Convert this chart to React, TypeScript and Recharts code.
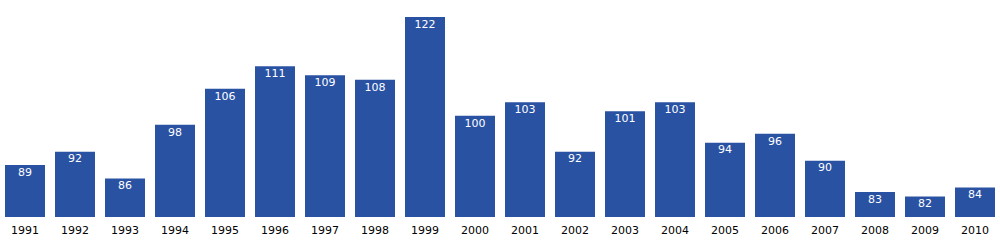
import React from "react";
import { BarChart, Bar, XAxis, YAxis, LabelList } from "recharts";

const years = ["1991","1992","1993","1994","1995","1996","1997","1998","1999","2000","2001","2002","2003","2004","2005","2006","2007","2008","2009","2010"];
const values = [89, 92, 86, 98, 106, 111, 109, 108, 122, 100, 103, 92, 101, 103, 94, 96, 90, 83, 82, 84];

const data = years.map((y, i) => ({ year: y, value: values[i] }));

export default function App() {
  return (
    <div style={{ position: "absolute", left: 0, top: 0, fontFamily: "DejaVu Sans" }}>
      <BarChart width={1000} height={250} data={data} margin={{ top: 17, right: 0, bottom: 0, left: 0 }} barSize={40}>
        <XAxis
          dataKey="year"
          axisLine={false}
          tickLine={false}
          height={33}
          tickMargin={3}
          interval={0}
          tick={{ fill: "#000", fontSize: 11, fontFamily: "DejaVu Sans" }}
        />
        <YAxis hide domain={[77.44, 122]} allowDataOverflow />
        <Bar dataKey="value" fill="#2a52a3" isAnimationActive={false}>
          <LabelList dataKey="value" position="insideTop" offset={3} fill="#fff" fontSize={11} fontFamily="DejaVu Sans" />
        </Bar>
      </BarChart>
    </div>
  );
}
